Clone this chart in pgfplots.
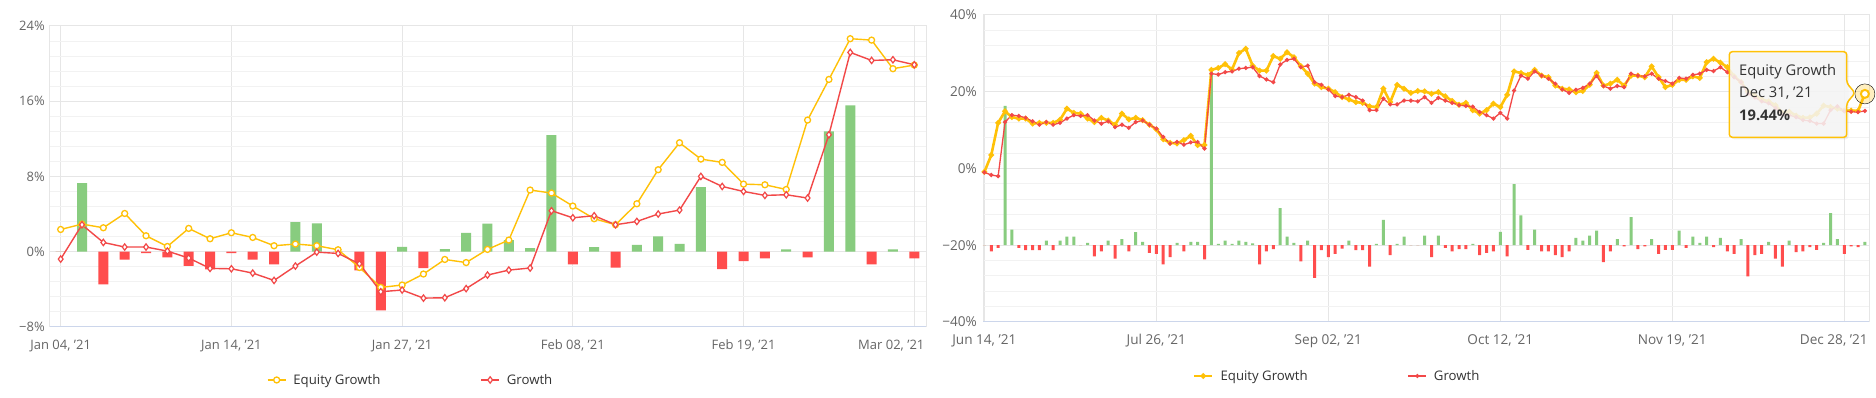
\documentclass[border=0pt]{standalone}
\usepackage{pgfplots}
\usepackage{pgfplotstable}
\pgfplotsset{compat=1.18}
\usepackage{fontspec}
\setmainfont{Open Sans}
\definecolor{eqyellow}{HTML}{FFC107}
\definecolor{grred}{HTML}{F24848}
\definecolor{bargreen}{HTML}{88CC7F}
\definecolor{barred}{HTML}{FF4D4D}
\definecolor{gridmaj}{HTML}{E6E6E6}
\definecolor{gridmin}{HTML}{F2F2F2}
\definecolor{axisblue}{HTML}{CCD6EB}
\definecolor{labgray}{HTML}{666666}
\definecolor{legtext}{HTML}{333333}
\definecolor{tipfill}{HTML}{F7F7F7}
\newcommand{\lastleft}{Mar 02, '21}
\newcommand{\lastright}{Dec 28, '21}

\pgfplotstableread{
i eq gr bar
0 2.37 -0.78 0
1 2.94 2.87 7.30
2 2.55 0.99 -3.47
3 4.07 0.50 -0.85
4 1.70 0.50 -0.15
5 0.56 0.07 -0.60
6 2.48 -0.67 -1.49
7 1.38 -1.77 -1.88
8 2.02 -1.81 -0.15
9 1.52 -2.27 -0.85
10 0.64 -3.05 -1.35
11 0.82 -1.52 3.16
12 0.64 -0.04 3.01
13 0.21 -0.18 0
14 -1.67 -1.28 -1.98
15 -3.79 -4.25 -6.24
16 -3.54 -4.07 0.53
17 -2.37 -4.93 -1.73
18 -0.82 -4.89 0.28
19 -1.15 -3.92 2.00
20 0.25 -2.48 2.98
21 1.24 -1.95 1.24
22 6.56 -1.73 0.39
23 6.24 4.36 12.40
24 4.86 3.61 -1.35
25 3.51 3.83 0.50
26 2.87 2.87 -1.70
27 5.10 3.22 0.74
28 8.72 4.01 1.63
29 11.59 4.43 0.85
30 9.85 8.01 6.88
31 9.50 6.94 -1.84
32 7.19 6.41 -0.99
33 7.12 5.99 -0.71
34 6.62 6.06 0.25
35 14.00 5.71 -0.60
36 18.32 12.44 12.80
37 22.65 21.19 15.56
38 22.50 20.34 -1.35
39 19.46 20.41 0.25
40 19.85 19.88 -0.71
}\leftdata

\pgfplotstableread{
i eq gr bar
0 -0.9 -1.0 0
1 3.5 -1.7 -1.6
2 11.9 -2.0 -0.7
3 14.9 12.1 36.3
4 13.4 13.9 4.1
5 13.0 13.7 -0.7
6 13.0 13.2 -1.3
7 11.7 12.3 -1.3
8 11.9 11.4 -1.3
9 11.9 12.1 1.2
10 11.9 11.4 -1.3
11 12.7 11.9 1.2
12 15.6 13.0 2.25
13 14.5 13.9 2.25
14 14.3 13.7 0
15 13.0 13.9 0.6
16 12.1 12.5 -2.9
17 13.2 11.7 -1.6
18 12.5 12.3 1.2
19 11.4 10.8 -3.5
20 14.3 11.4 1.6
21 12.8 10.6 -1.6
22 13.2 12.1 3.4
23 12.6 12.5 0.9
24 11.4 11.4 -2.0
25 10.2 10.4 -2.25
26 7.6 8.2 -5.0
27 6.7 6.5 -3.1
28 6.5 6.9 0.6
29 7.4 6.2 -1.6
30 8.5 6.8 0.9
31 6.1 6.9 0.9
32 6.1 5.2 -3.7
33 25.7 24.7 46.1
34 26.2 24.5 0.35
35 27.2 25.1 1.2
36 25.8 25.3 0.35
37 30.1 26.0 1.2
38 31.2 26.2 0.9
39 26.8 26.4 0.5
40 25.5 24.1 -5.0
41 25.5 23.2 -1.6
42 29.3 22.5 -1.0
43 28.6 27.1 9.7
44 30.3 28.3 2.25
45 29.0 28.6 0.6
46 26.7 26.4 -4.2
47 24.7 26.8 1.2
48 22.1 22.5 -8.5
49 21.2 21.8 -1.3
50 20.8 20.6 -3.1
51 19.9 18.9 -2.25
52 18.6 18.6 -0.9
53 18.0 19.2 1.2
54 17.3 18.6 -1.3
55 17.1 17.7 -1.3
56 16.2 15.2 -5.6
57 16.0 15.2 0.35
58 20.8 18.2 6.6
59 17.3 16.7 -2.6
60 21.8 16.7 0.35
61 20.8 17.7 2.25
62 19.7 17.7 0
63 20.2 17.5 0
64 20.1 18.6 2.5
65 19.5 17.1 -3.1
66 19.9 18.4 2.5
67 18.8 17.7 -0.7
68 17.6 17.1 -1.6
69 16.6 16.5 -1.0
70 17.1 16.3 -1.0
71 15.2 16.1 0.35
72 14.3 14.7 -2.6
73 15.2 13.9 -2.0
74 16.9 13.0 -1.6
75 16.0 14.5 3.5
76 19.2 13.0 -2.9
77 25.3 20.3 15.9
78 24.9 24.2 7.8
79 24.4 23.4 -1.2
80 25.7 25.3 4.1
81 24.2 24.2 -1.6
82 23.8 23.4 -1.6
83 21.6 22.1 -2.6
84 20.8 20.6 -3.1
85 20.6 19.7 -1.6
86 19.9 20.5 1.9
87 20.2 21.0 1.2
88 21.8 22.1 2.5
89 24.9 24.1 3.8
90 21.6 21.5 -4.4
91 22.1 20.8 -1.6
92 23.1 21.5 1.6
93 21.6 21.2 -0.3
94 24.2 24.7 7.3
95 24.2 24.2 -1.0
96 23.8 24.0 -0.3
97 26.6 24.7 1.6
98 23.8 23.4 -2.25
99 21.2 22.8 -1.2
100 21.8 22.1 -1.2
101 23.1 23.6 3.8
102 23.1 23.4 -0.7
103 24.0 24.4 2.25
104 23.6 24.7 0.6
105 27.7 25.7 2.25
106 28.6 25.4 -0.5
107 27.6 26.4 1.9
108 26.4 25.1 -1.6
109 24.0 23.8 -2.25
110 22.5 22.5 1.6
111 20.0 19.5 -8.1
112 19.0 18.5 -2.6
113 18.0 17.5 -2.25
114 17.5 17.0 0.9
115 16.5 15.8 -3.5
116 14.5 14.0 -5.6
117 14.8 13.9 1.2
118 13.8 13.4 -1.8
119 13.2 12.6 -1.6
120 13.3 12.4 -0.5
121 14.3 11.7 -1.2
122 16.4 11.7 0.6
123 16.0 15.2 8.4
124 15.6 16.2 1.6
125 15.1 15.0 -2.25
126 15.1 14.8 -0.3
127 15.0 14.7 -0.5
128 19.44 15.0 0.9
}\rightdata

\pgfplotsset{
  hcgrid/.style={
    scale only axis, anchor=south west,
    axis line style={draw=gridmaj, line width=1pt},
    major tick length=0pt, minor tick length=0pt,
    ymajorgrids, yminorgrids, xmajorgrids, minor y tick num=4,
    major grid style={draw=gridmaj, line width=1pt},
    minor grid style={draw=gridmin, line width=1pt},
    tick label style={font=\fontsize{13}{15}\selectfont, text=labgray, inner sep=0pt},
    yticklabel style={anchor=east, xshift=-5pt},
    xticklabel style={anchor=base, yshift=-22.5pt},
    extra x tick style={grid=major, xticklabel style={anchor=base east}},
  },
  hidden/.style={scale only axis, anchor=south west, hide axis, clip=false},
  hclegend/.style={
    legend columns=2, legend cell align=left,
    legend style={anchor=west, draw=none, fill=none, inner sep=0pt, outer sep=0pt,
      font=\fontsize{13.2}{15}\selectfont, text=legtext, nodes={inner sep=0pt},
      /tikz/every odd column/.append style={column sep=7pt},
      /tikz/every even column/.append style={column sep=100pt}},
    legend image code/.code={\draw[mark repeat=2,mark phase=2,##1] plot coordinates {(0pt,0pt) (9pt,0pt) (18pt,0pt)};},
  },
}

\begin{document}
\begin{tikzpicture}[x=1pt,y=1pt]
\fill[white] (0,0) rectangle (1876,398);
\useasboundingbox (0,0) rectangle (1876,398);

% ---------------- left chart ----------------
\begin{axis}[hcgrid, hclegend,
  at={(50pt,71pt)}, width=876pt, height=301pt,
  xmin=-0.5, xmax=40.55, ymin=-8, ymax=24,
  xtick={0,8,16,24,32}, xticklabels={{Jan 04, '21},{Jan 14, '21},{Jan 27, '21},{Feb 08, '21},{Feb 19, '21}},
  extra x ticks={40}, extra x tick labels={\lastleft},
  extra x tick style={xticklabel style={xshift=10.3pt}},
  ytick={-8,0,8,16,24}, yticklabels={−8\%,0\%,8\%,16\%,24\%},
  legend style={at={(axis description cs:0.2477,-0.176)}},
]
\addplot[ybar, bar width=10pt, bar shift=0pt, fill=bargreen, draw=none, forget plot,
  restrict y to domain=0:100] table[x=i, y=bar] {\leftdata};
\addplot[ybar, bar width=10pt, bar shift=0pt, fill=barred, draw=none, forget plot,
  restrict y to domain=-100:0] table[x=i, y=bar] {\leftdata};
\addplot[eqyellow, line width=1.4pt, mark=*, mark size=3pt,
  mark options={fill=white, draw=eqyellow, line width=1.3pt}] table[x=i, y=eq] {\leftdata};
\addlegendentry{Equity Growth}
\addplot[grred, line width=1.4pt, mark=diamond*, mark size=3.2pt,
  mark options={fill=white, draw=grred, line width=1.2pt}] table[x=i, y=gr] {\leftdata};
\addlegendentry{Growth}
\draw[axisblue, line width=1.2pt] (axis description cs:0,0) -- (axis description cs:1,0);
\end{axis}

% ---------------- right chart ----------------
\begin{axis}[hcgrid,
  at={(983pt,76pt)}, width=886pt, height=307pt,
  xmin=-0.2, xmax=128.6, ymin=-40, ymax=40,
  tick label style={font=\fontsize{13.6}{15}\selectfont},
  yticklabel style={xshift=-1pt},
  xticklabel style={yshift=-0.3pt},
  xtick={0,25,50,75,100}, xticklabels={{Jun 14, '21},{Jul 26, '21},{Sep 02, '21},{Oct 12, '21},{Nov 19, '21}},
  extra x ticks={125}, extra x tick labels={\lastright},
  extra x tick style={xticklabel style={xshift=23.7pt}},
  ytick={-40,-20,0,20,40}, yticklabels={−40\%,−20\%,0\%,20\%,40\%},
]
\addplot[draw=none, forget plot] coordinates {(0,0)};
\draw[axisblue, line width=1.2pt] (axis description cs:0,0) -- (axis description cs:1,0);
\end{axis}

\begin{axis}[hidden,
  at={(983pt,76pt)}, width=886pt, height=307pt,
  xmin=-0.2, xmax=128.6, ymin=-20, ymax=60,
]
\addplot[ybar, bar width=3pt, bar shift=0pt, fill=bargreen, draw=none,
  restrict y to domain=0:100] table[x=i, y=bar] {\rightdata};
\addplot[ybar, bar width=3pt, bar shift=0pt, fill=barred, draw=none,
  restrict y to domain=-100:0] table[x=i, y=bar] {\rightdata};
\end{axis}

\begin{axis}[hidden, hclegend,
  at={(983pt,76pt)}, width=886pt, height=307pt,
  xmin=-0.2, xmax=128.6, ymin=-40, ymax=40,
  legend style={at={(axis description cs:0.2370,-0.1759)}},
]
\addplot[eqyellow, line width=2.6pt, mark=*, mark size=1.3pt,
  mark options={fill=eqyellow, draw=none}] table[x=i, y=eq] {\rightdata};
\addlegendentry{Equity Growth}
\addplot[grred, line width=1.3pt, mark=*, mark size=1.4pt,
  mark options={fill=grred, draw=none}] table[x=i, y=gr] {\rightdata};
\addlegendentry{Growth}
\addplot[only marks, mark=*, mark size=10pt, mark options={fill=eqyellow, fill opacity=0.25, draw=none}, forget plot]
  coordinates {(128,19.44)};
\addplot[only marks, mark=*, mark size=4pt, mark options={fill=white, draw=eqyellow, line width=2pt}, forget plot]
  coordinates {(128,19.44)};
\end{axis}

% tooltip
\fill[black, opacity=0.06, rounded corners=3pt] (1731.3,258.7) rectangle (1848.7,344.3);
\draw[eqyellow, line width=1.5pt, fill=tipfill, fill opacity=0.85, rounded corners=3pt]
  (1729.3,260.7) -- (1729.3,346.3) -- (1846.7,346.3) -- (1846.7,315) -- (1855,305) -- (1846.7,295) -- (1846.7,260.7) -- cycle;
\node[anchor=base west, inner sep=0pt, font=\fontsize{14.7}{17}\selectfont, text=legtext] at (1739,322) {Equity Growth};
\node[anchor=base west, inner sep=0pt, font=\fontsize{14.7}{17}\selectfont, text=legtext] at (1739,300) {Dec 31, '21};
\node[anchor=base west, inner sep=0pt, font=\fontsize{14.7}{17}\selectfont\bfseries, text=legtext] at (1739,277) {19.44\%};
\end{tikzpicture}
\end{document}
